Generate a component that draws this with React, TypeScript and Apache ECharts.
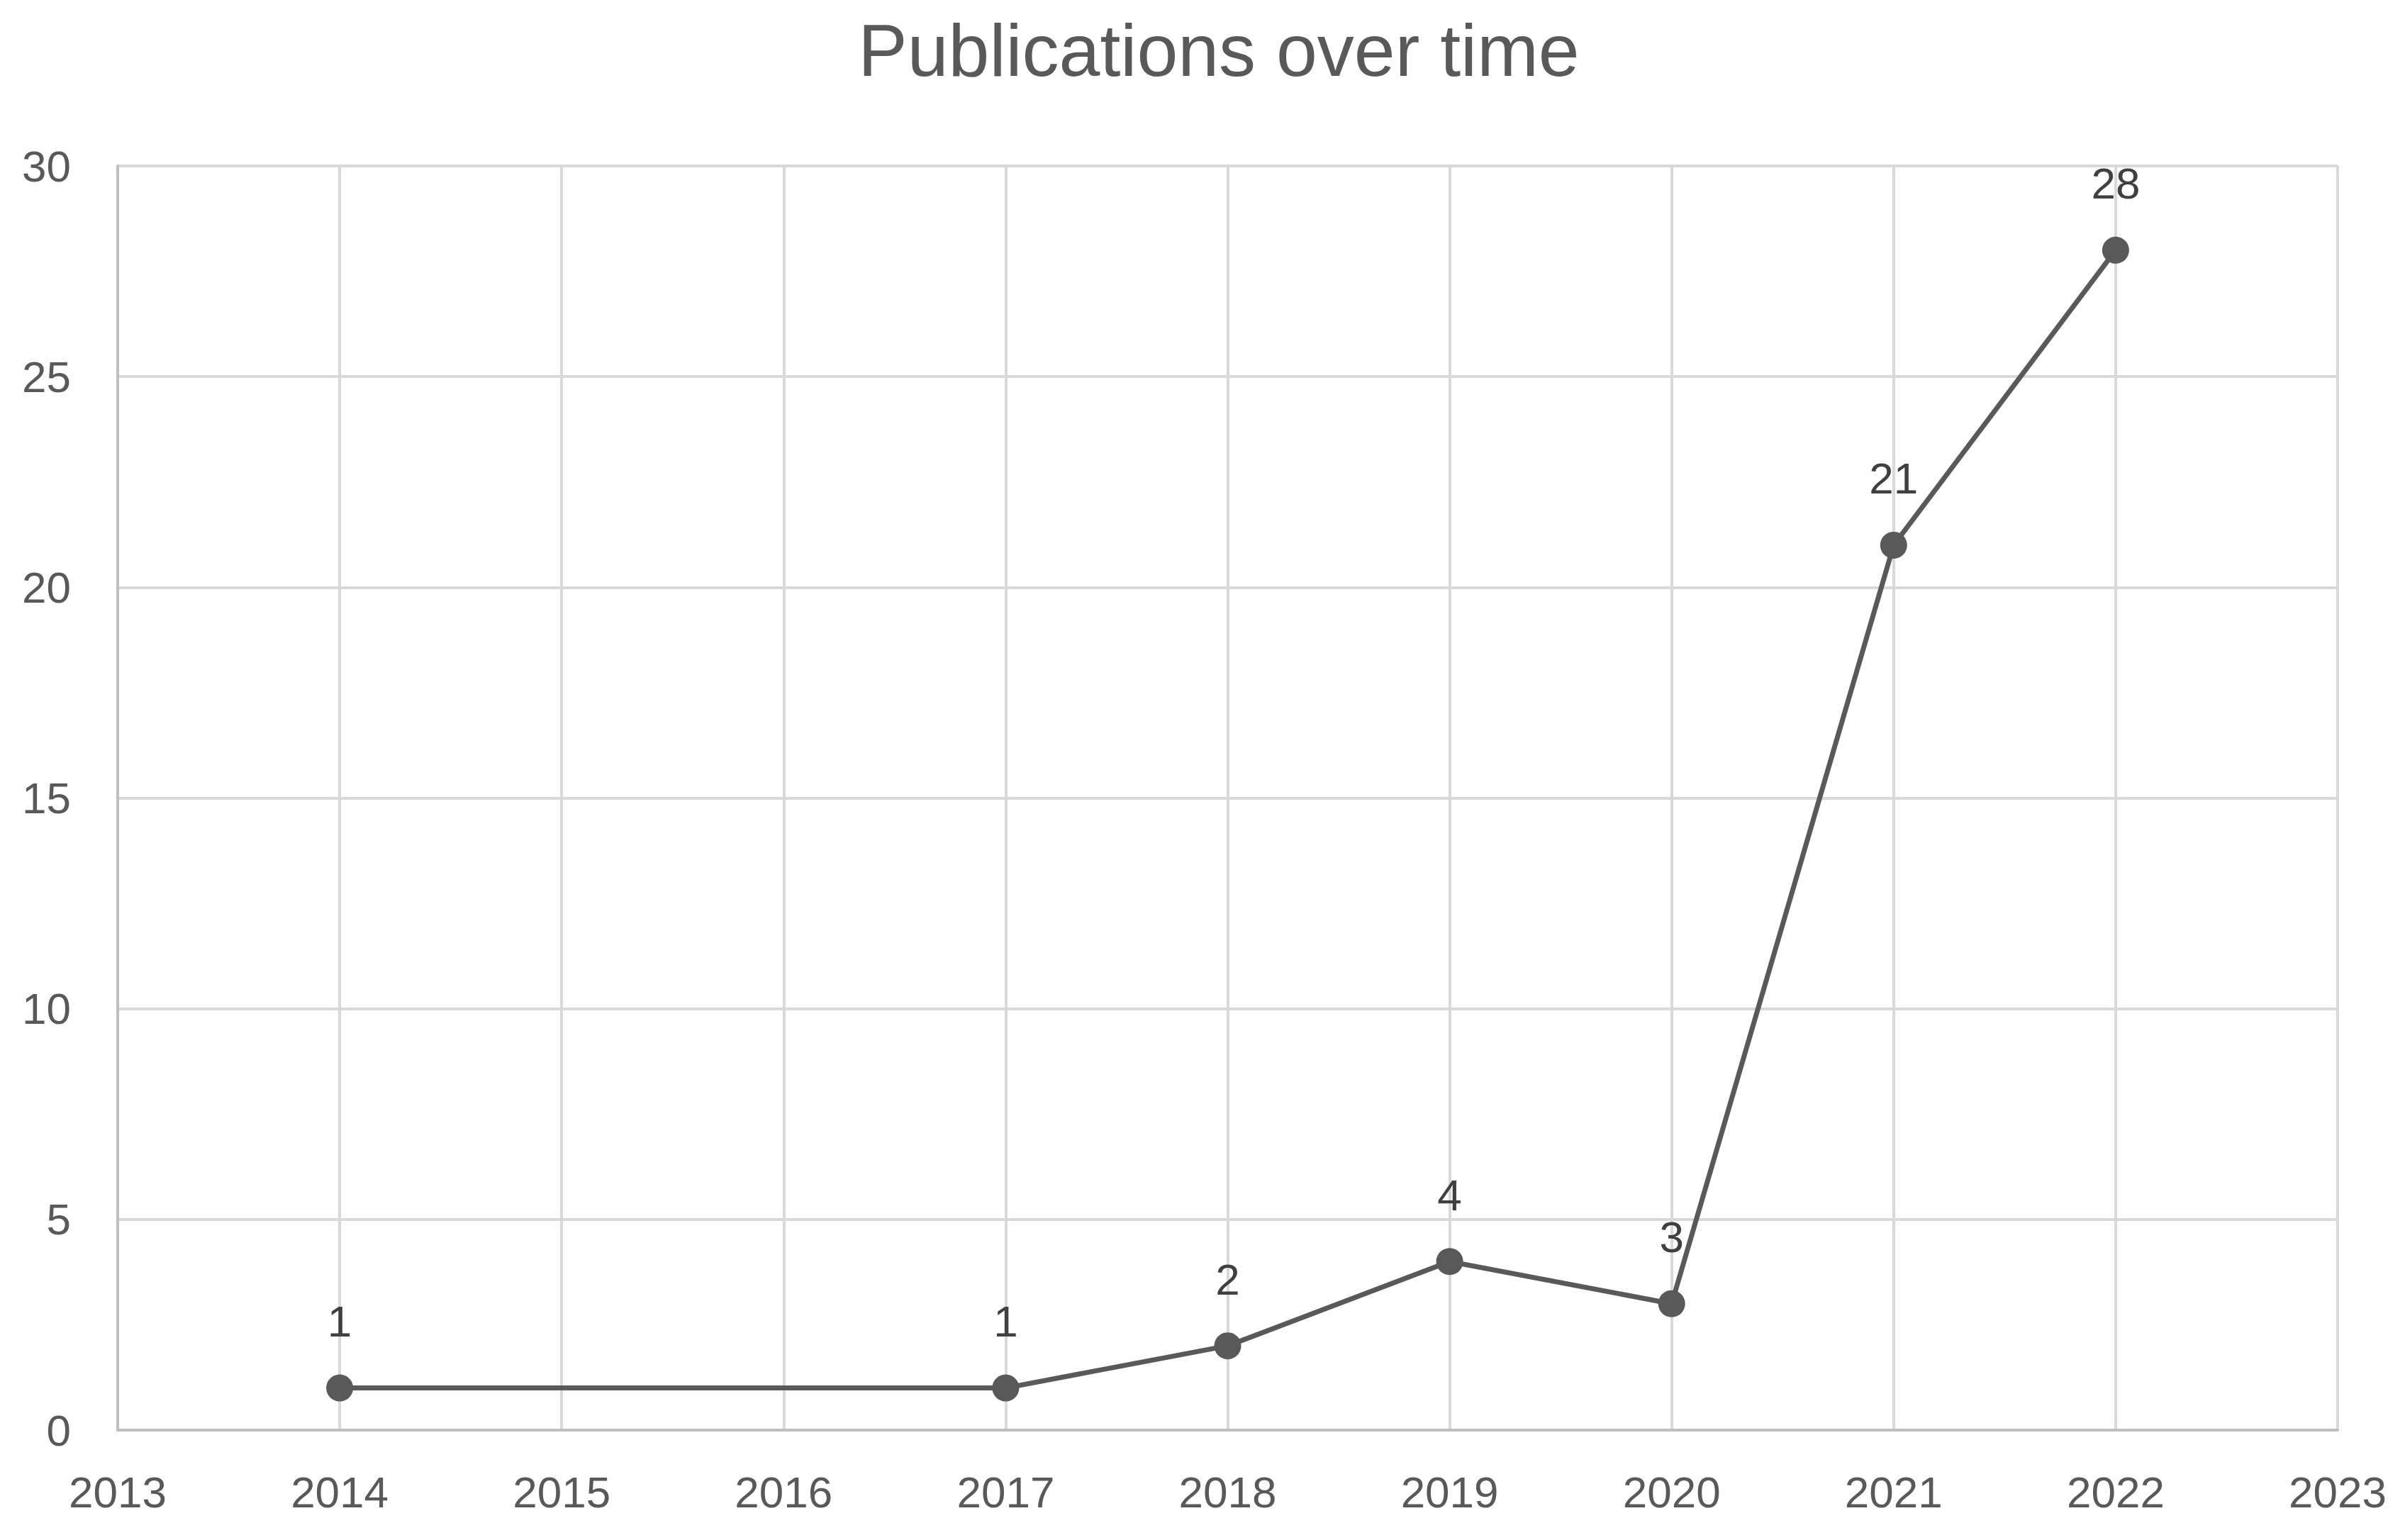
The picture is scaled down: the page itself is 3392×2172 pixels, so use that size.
import React, { useEffect, useRef } from "react";
import * as echarts from "echarts";

const years = [2014, 2017, 2018, 2019, 2020, 2021, 2022];
const counts = [1, 1, 2, 4, 3, 21, 28];
const titleText = "Publications over time";

export default function App() {
  const ref = useRef<HTMLDivElement>(null);
  useEffect(() => {
    if (!ref.current) return;
    const chart = echarts.init(ref.current, null, { renderer: "svg" });
    const font = "Liberation Sans, Arial, sans-serif";
    chart.setOption({
      animation: false,
      backgroundColor: "#ffffff",
      title: {
        text: titleText,
        left: 1714,
        top: 14,
        textAlign: "center",
        textStyle: { fontFamily: font, fontSize: 104, fontWeight: "normal", color: "#595959" },
      },
      grid: { left: 166, right: 95, top: 234, bottom: 155, containLabel: false },
      xAxis: {
        type: "value",
        min: 2013,
        max: 2023,
        interval: 1,
        axisLine: { show: true, lineStyle: { color: "#bfbfbf", width: 4 } },
        axisTick: { show: false },
        axisLabel: {
          color: "#595959",
          fontFamily: font,
          fontSize: 62,
          margin: 56,
          formatter: (v: number) => String(v),
        },
        splitLine: { show: true, lineStyle: { color: "#d9d9d9", width: 4 } },
      },
      yAxis: {
        type: "value",
        min: 0,
        max: 30,
        interval: 5,
        axisLine: { show: true, lineStyle: { color: "#bfbfbf", width: 4 } },
        axisTick: { show: false },
        axisLabel: { color: "#595959", fontFamily: font, fontSize: 62, margin: 66 },
        splitLine: { show: true, lineStyle: { color: "#d9d9d9", width: 4 } },
      },
      series: [
        {
          type: "line",
          data: years.map((y, i) => [y, counts[i]]),
          symbol: "circle",
          symbolSize: 38,
          itemStyle: { color: "#595959" },
          lineStyle: { color: "#595959", width: 7 },
          label: {
            show: true,
            position: "top",
            distance: 44,
            color: "#404040",
            fontFamily: font,
            fontSize: 62,
            formatter: (p: any) => String(p.value[1]),
          },
        },
      ],
    });
    return () => chart.dispose();
  }, []);
  return (
    <div
      ref={ref}
      style={{ position: "fixed", left: 0, top: 0, width: 3392, height: 2172 }}
    />
  );
}
